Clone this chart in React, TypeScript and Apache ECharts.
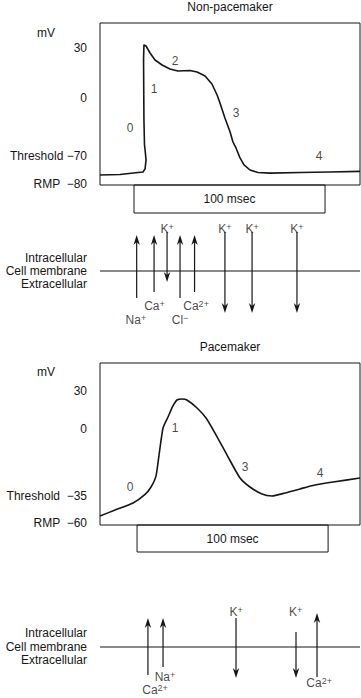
import React, { useEffect, useRef } from "react";
import * as echarts from "echarts";

const INK = "#161616";
const FONT = "'Liberation Sans', Arial, Helvetica, sans-serif";
const T_MAX = 136.1; // ms spanned by the plot box

// ---------------- Non-pacemaker action potential ----------------
const npTimeMs = [0, 10.5, 19.9, 22.5, 23.6, 24.1, 23.6, 23.3, 23.0, 22.8, 23.0, 24.1, 26.2, 28.8, 32.5, 36.6, 40.8, 47.1, 50.8, 55.0, 58.6, 61.3, 62.8, 65.4, 68.1, 69.6, 71.2, 73.3, 75.4, 78.5, 82.7, 89.0, 104.7, 120.4, 136.1];
const npVoltage = [-76.8, -76.6, -75.9, -75.7, -74.6, -71.4, -62.8, -56.7, -26.6, 22.8, 31.8, 31.2, 27.0, 22.8, 19.8, 17.4, 16.2, 16.5, 15.6, 13.2, 8.4, 1.8, -6.0, -24.1, -41.0, -53.1, -60.3, -70.7, -73.2, -75.0, -75.9, -76.1, -75.9, -75.7, -75.5];
const npTickMV = [30, 0, -70, -80];
const npTickLabels = ["30", "0", "Threshold −70", "RMP  −80"];
// schematic (non-proportional) voltage scale: mV breakpoints -> axis units
const npScaleMV = [-80, -70, 0, 30];
const npScaleUnits = [1, 29, 87, 137];
const npPhaseNames = ["0", "1", "2", "3", "4"];
const npPhaseTime = [15.7, 28.3, 39.3, 71.2, 114.7];
const npPhaseMV = [-36.2, 5.4, 22.2, -18.1, -70];
const npBarStart = 17.8;

// ion currents across the membrane (non-pacemaker)
const npIonTime = [19.2, 28.3, 35.1, 41.9, 49.5, 65.4, 79.6, 103.1];
const npIonFrom = [-27, -21, 39, -27, -21, 39, 39, 39];
const npIonTo = [36, 36, -11, 36, 36, -42, -42, -42];
const npIonName = ["Na", "Ca", "K", "Cl", "Ca", "K", "K", "K"];
const npIonCharge = ["+", "+", "+", "−", "2+", "+", "+", "+"];
const npIonLabelTime = [18.8, 28.5, 35.1, 41.9, 50.3, 65.4, 79.6, 103.1];
const npIonLabelY = [-49, -35, 42, -49, -35, 42, 42, 42];
const npSideValues = [13, 0, -12.8];

// ---------------- Pacemaker action potential ----------------
const pTimeMs = [0, 7.9, 17.3, 23.6, 26.7, 29.3, 30.9, 33.0, 35.6, 38.2, 40.3, 42.9, 45.5, 50.8, 55.5, 60.2, 66.5, 73.3, 78.5, 84.8, 90.0, 96.9, 104.7, 111.5, 122.0, 136.1];
const pVoltage = [-53.5, -48.0, -41.5, -34.2, -30.3, -24.6, -13.6, 0.8, 9.5, 18.2, 22.9, 23.7, 22.9, 16.6, 8.7, -2.1, -13.6, -25.6, -30.3, -34.0, -35.0, -33.4, -31.3, -29.5, -27.7, -25.6];
const pTickMV = [30, 0, -35, -60];
const pTickLabels = ["30", "0", "Threshold  −35", "RMP  −60"];
const pScaleMV = [-60, -35, 0, 30];
const pScaleUnits = [2, 29, 96, 134];
const pPhaseNames = ["0", "1", "3", "4"];
const pPhaseTime = [15.7, 39.3, 75.9, 115.2];
const pPhaseMV = [-30.3, 0.8, -19.9, -23.0];
const pBarStart = 19.4;

const pIonTime = [25.1, 33.0, 71.2, 102.6, 113.6];
const pIonFrom = [-28, -20, 29, 15, -30];
const pIonTo = [29, 29, -31, -31, 34];
const pIonName = ["Ca", "Na", "K", "K", "Ca"];
const pIonCharge = ["2+", "+", "+", "+", "2+"];
const pIonLabelTime = [28.8, 34.0, 71.2, 102.4, 114.7];
const pIonLabelY = [-43, -30, 35, 35, -36];
const pSideValues = [14.5, 0, -13];

const sideLabels = ["Intracellular", "Cell membrane", "Extracellular"];

// piecewise-linear mapping of the schematic voltage scale
function toUnits(v: number, xs: number[], ys: number[]): number {
  let i = 0;
  if (v <= xs[0]) i = 0;
  else if (v >= xs[xs.length - 1]) i = xs.length - 2;
  else {
    while (i < xs.length - 2 && v > xs[i + 1]) i++;
  }
  const t = (v - xs[i]) / (xs[i + 1] - xs[i]);
  return ys[i] + t * (ys[i + 1] - ys[i]);
}

const textStyleBase = { color: INK, fontSize: 12, fontFamily: FONT };

function chartYAxis(gridIndex: number, ticks: number[], labels: string[], sMV: number[], sU: number[]) {
  const units = ticks.map((v) => toUnits(v, sMV, sU));
  return {
    gridIndex,
    type: "value",
    min: 0,
    max: 162,
    axisLine: { show: false },
    axisTick: { show: false },
    splitLine: { show: false },
    axisLabel: {
      ...textStyleBase,
      margin: 13,
      customValues: units,
      formatter: (val: number) => {
        const i = units.findIndex((u) => Math.abs(u - val) < 0.01);
        return i >= 0 ? labels[i] : "";
      },
    },
  };
}

function ionYAxis(gridIndex: number, values: number[]) {
  return {
    gridIndex,
    type: "value",
    min: -50,
    max: 50,
    axisLine: { show: false },
    axisTick: { show: false },
    splitLine: { show: false },
    axisLabel: {
      ...textStyleBase,
      margin: 13,
      customValues: values,
      formatter: (val: number) => {
        const i = values.findIndex((u) => Math.abs(u - val) < 0.01);
        return i >= 0 ? sideLabels[i] : "";
      },
    },
  };
}

function plainYAxis(gridIndex: number) {
  return { gridIndex, type: "value", min: 0, max: 1, show: false };
}

const arrowRender = (_params: any, api: any) => {
  const t = api.value(0);
  const a = api.value(1);
  const b = api.value(2);
  const p1 = api.coord([t, a]);
  const p2 = api.coord([t, b]);
  const dir = p2[1] > p1[1] ? 1 : -1;
  const L = 10;
  const W = 3.2;
  const notch = 7;
  const x = p2[0];
  const y = p2[1];
  return {
    type: "group",
    children: [
      {
        type: "line",
        shape: { x1: p1[0], y1: p1[1], x2: x, y2: y - dir * notch },
        style: { stroke: INK, lineWidth: 1.2 },
      },
      {
        type: "polygon",
        shape: { points: [[x, y], [x - W, y - dir * L], [x, y - dir * notch], [x + W, y - dir * L]] },
        style: { fill: INK },
      },
    ],
  };
};

function curveSeries(idx: number, t: number[], v: number[], sMV: number[], sU: number[], smooth: number | boolean) {
  return {
    type: "line",
    xAxisIndex: idx,
    yAxisIndex: idx,
    data: t.map((x, i) => [x, toUnits(v[i], sMV, sU)]),
    showSymbol: false,
    symbol: "none",
    smooth,
    silent: true,
    lineStyle: { color: INK, width: 1.6, join: "round" },
  };
}

function phaseSeries(idx: number, names: string[], t: number[], v: number[], sMV: number[], sU: number[]) {
  return {
    type: "scatter",
    xAxisIndex: idx,
    yAxisIndex: idx,
    silent: true,
    symbolSize: 1,
    itemStyle: { color: "rgba(0,0,0,0)" },
    data: names.map((n, i) => [t[i], toUnits(v[i], sMV, sU), n]),
    label: { show: true, position: "inside", ...textStyleBase, formatter: (p: any) => p.data[2] },
  };
}

function barSeries(idx: number, start: number) {
  return {
    type: "line",
    xAxisIndex: idx,
    yAxisIndex: idx,
    symbol: "none",
    silent: true,
    data: [[start, 0.5]],
    lineStyle: { opacity: 0 },
    markArea: {
      silent: true,
      itemStyle: { color: "rgba(0,0,0,0)", borderColor: INK, borderWidth: 1 },
      label: { show: true, position: "inside", ...textStyleBase },
      data: [[{ name: "100 msec", xAxis: start }, { xAxis: start + 100 }]],
    },
  };
}

function ionSeries(idx: number, time: number[], from: number[], to: number[], names: string[], charges: string[], lt: number[], ly: number[]) {
  return [
    {
      type: "line",
      xAxisIndex: idx,
      yAxisIndex: idx,
      symbol: "none",
      silent: true,
      data: [[0, 0], [T_MAX, 0]],
      lineStyle: { color: INK, width: 1.2 },
    },
    {
      type: "custom",
      xAxisIndex: idx,
      yAxisIndex: idx,
      silent: true,
      renderItem: arrowRender,
      encode: { x: 0, y: [1, 2] },
      data: time.map((t, i) => [t, from[i], to[i]]),
    },
    {
      type: "scatter",
      xAxisIndex: idx,
      yAxisIndex: idx,
      silent: true,
      symbolSize: 1,
      itemStyle: { color: "rgba(0,0,0,0)" },
      data: names.map((n, i) => [lt[i], ly[i], n, charges[i]]),
      label: {
        show: true,
        position: "inside",
        ...textStyleBase,
        lineHeight: 14,
        formatter: (p: any) => `${p.data[2]}{s|${p.data[3]}}`,
        rich: { s: { color: INK, fontFamily: FONT, fontSize: 9, lineHeight: 9, verticalAlign: "top" } },
      },
    },
  ];
}

export default function App() {
  const ref = useRef<HTMLDivElement>(null);
  useEffect(() => {
    if (!ref.current) return;
    const chart = echarts.init(ref.current, undefined, { renderer: "svg" });
    const gridBase = { left: 100, width: 260, containLabel: false };
    const grids = [
      { ...gridBase, top: 23, height: 162, show: true, borderColor: INK, borderWidth: 1 },
      { ...gridBase, top: 185, height: 28 },
      { ...gridBase, top: 221, height: 100 },
      { ...gridBase, top: 363, height: 162, show: true, borderColor: INK, borderWidth: 1 },
      { ...gridBase, top: 525, height: 27 },
      { ...gridBase, top: 597, height: 100 },
    ];
    const xAxes = grids.map((_, i) => ({ gridIndex: i, type: "value", min: 0, max: T_MAX, show: false }));
    const yAxes = [
      chartYAxis(0, npTickMV, npTickLabels, npScaleMV, npScaleUnits),
      plainYAxis(1),
      ionYAxis(2, npSideValues),
      chartYAxis(3, pTickMV, pTickLabels, pScaleMV, pScaleUnits),
      plainYAxis(4),
      ionYAxis(5, pSideValues),
    ];
    const titleText = (text: string, y: number) => ({
      type: "text",
      x: 230,
      y,
      style: { text, fill: INK, fontSize: 12, fontFamily: FONT, align: "center", verticalAlign: "middle" },
    });
    const unitText = (y: number) => ({
      type: "text",
      x: 55,
      y,
      style: { text: "mV", fill: INK, fontSize: 12, fontFamily: FONT, align: "right", verticalAlign: "middle" },
    });
    chart.setOption({
      animation: false,
      backgroundColor: "#ffffff",
      grid: grids,
      xAxis: xAxes,
      yAxis: yAxes,
      graphic: [titleText("Non-pacemaker", 7), unitText(33), titleText("Pacemaker", 347), unitText(372)],
      series: [
        curveSeries(0, npTimeMs, npVoltage, npScaleMV, npScaleUnits, false),
        phaseSeries(0, npPhaseNames, npPhaseTime, npPhaseMV, npScaleMV, npScaleUnits),
        barSeries(1, npBarStart),
        ...ionSeries(2, npIonTime, npIonFrom, npIonTo, npIonName, npIonCharge, npIonLabelTime, npIonLabelY),
        curveSeries(3, pTimeMs, pVoltage, pScaleMV, pScaleUnits, 0.2),
        phaseSeries(3, pPhaseNames, pPhaseTime, pPhaseMV, pScaleMV, pScaleUnits),
        barSeries(4, pBarStart),
        ...ionSeries(5, pIonTime, pIonFrom, pIonTo, pIonName, pIonCharge, pIonLabelTime, pIonLabelY),
      ],
    });
    return () => chart.dispose();
  }, []);
  return (
    <div
      ref={ref}
      style={{ position: "absolute", left: 0, top: 0, width: 361, height: 698, background: "#fff" }}
    />
  );
}
